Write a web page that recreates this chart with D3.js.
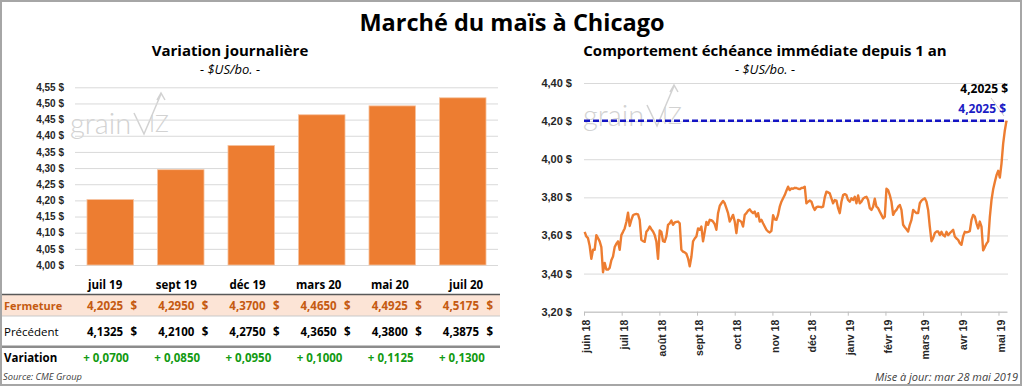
<!DOCTYPE html>
<html>
<head>
<meta charset="utf-8">
<script src="https://cdn.jsdelivr.net/npm/d3@7"></script>
<style>
  body { margin: 0; background: #fff; }
  svg { display: block; font-family: "Open Sans", Lato, sans-serif; }
</style>
</head>
<body>
<div id="chart"></div>
<script>
// contrats (graphique de gauche + tableau)
const contracts = ["juil 19", "sept 19", "déc 19", "mars 20", "mai 20", "juil 20"];
const closing = [4.2025, 4.295, 4.37, 4.465, 4.4925, 4.5175];
const previous = [4.1325, 4.21, 4.275, 4.365, 4.38, 4.3875];
const variation = [0.07, 0.085, 0.095, 0.1, 0.1125, 0.13];
const barTicks = [4.0, 4.05, 4.1, 4.15, 4.2, 4.25, 4.3, 4.35, 4.4, 4.45, 4.5, 4.55];

// échéance immédiate, séances de juin 2018 à mai 2019
const monthLabels = ["juin 18", "juil 18", "août 18", "sept 18", "oct 18", "nov 18",
  "déc 18", "janv 19", "févr 19", "mars 19", "avr 19", "mai 19"];
const sessionsPerMonth = 22.6;
const lineTicks = [3.2, 3.4, 3.6, 3.8, 4.0, 4.2, 4.4];
const lastPrice = 4.2025;
const nearbyPrices = [
  3.619, 3.595, 3.586, 3.546, 3.477, 3.525, 3.525, 3.602, 3.586, 3.569,
  3.539, 3.407, 3.456, 3.421, 3.421, 3.430, 3.470, 3.490, 3.539, 3.557,
  3.569, 3.525, 3.602, 3.619, 3.637, 3.671, 3.720, 3.650, 3.682, 3.706,
  3.711, 3.713, 3.711, 3.682, 3.577, 3.570, 3.567, 3.619, 3.630, 3.647,
  3.633, 3.621, 3.602, 3.569, 3.477, 3.626, 3.619, 3.570, 3.567, 3.595,
  3.656, 3.664, 3.678, 3.656, 3.668, 3.671, 3.673, 3.664, 3.525, 3.515,
  3.511, 3.504, 3.480, 3.438, 3.487, 3.569, 3.584, 3.595, 3.637, 3.630,
  3.647, 3.569, 3.619, 3.671, 3.656, 3.682, 3.680, 3.673, 3.659, 3.630,
  3.717, 3.755, 3.769, 3.781, 3.769, 3.743, 3.717, 3.673, 3.690, 3.708,
  3.673, 3.612, 3.682, 3.678, 3.671, 3.647, 3.708, 3.717, 3.730, 3.737,
  3.725, 3.717, 3.725, 3.699, 3.717, 3.673, 3.682, 3.664, 3.647, 3.630,
  3.621, 3.616, 3.624, 3.706, 3.685, 3.682, 3.708, 3.751, 3.777, 3.795,
  3.812, 3.835, 3.856, 3.838, 3.847, 3.845, 3.850, 3.849, 3.845, 3.843,
  3.849, 3.850, 3.856, 3.769, 3.777, 3.783, 3.777, 3.751, 3.734, 3.748,
  3.751, 3.750, 3.748, 3.751, 3.800, 3.830, 3.826, 3.821, 3.795, 3.769,
  3.786, 3.783, 3.743, 3.717, 3.777, 3.812, 3.817, 3.812, 3.786, 3.777,
  3.795, 3.786, 3.803, 3.769, 3.810, 3.769, 3.777, 3.793, 3.800, 3.803,
  3.786, 3.743, 3.734, 3.751, 3.793, 3.751, 3.743, 3.725, 3.708, 3.690,
  3.699, 3.845, 3.838, 3.812, 3.777, 3.708, 3.725, 3.734, 3.751, 3.760,
  3.734, 3.656, 3.643, 3.633, 3.621, 3.656, 3.682, 3.734, 3.725, 3.717,
  3.717, 3.769, 3.783, 3.790, 3.795, 3.777, 3.734, 3.647, 3.570, 3.586,
  3.612, 3.621, 3.621, 3.602, 3.619, 3.602, 3.595, 3.619, 3.602, 3.612,
  3.621, 3.630, 3.595, 3.584, 3.577, 3.560, 3.551, 3.595, 3.619, 3.616,
  3.619, 3.623, 3.682, 3.708, 3.699, 3.664, 3.637, 3.673, 3.647, 3.522,
  3.539, 3.557, 3.569, 3.696, 3.786, 3.842, 3.880, 3.916, 3.939, 3.904,
  3.977, 4.082, 4.151, 4.2025
];

const W = 1024, H = 387;
const orange = "#ed7d31", grid = "#d9d9d9";

const fr = d3.formatLocale({ decimal: ",", thousands: " ", grouping: [3], currency: ["", " $"] });
const f2 = fr.format(".2f"), f4 = fr.format(".4f");

const svg = d3.select("#chart").append("svg").attr("width", W).attr("height", H);

svg.append("rect")
  .attr("x", 1).attr("y", 1).attr("width", 1020).attr("height", 384)
  .attr("fill", "#fff").attr("stroke", "#a6a6a6").attr("stroke-width", 2);

svg.append("text")
  .attr("x", 512).attr("y", 31)
  .attr("text-anchor", "middle")
  .style("font-size", "23.5px").style("font-weight", "bold")
  .text("Marché du maïs à Chicago");

function drawWatermark(x0, y0) {
  const wm = svg.append("g").attr("transform", "translate(" + x0 + "," + y0 + ")");
  const c = "#d2d2d2";
  wm.append("text").attr("fill", c)
    .attr("font-family", "Lato")
    .style("font-size", "29px").style("font-weight", 300)
    .text("grain");
  wm.append("path")
    .attr("d", "M64,-21L74,0L91,-40M87,-34L91,-41L95,-34")
    .attr("fill", "none").attr("stroke", c).attr("stroke-width", 1.5);
  wm.append("text").attr("x", 79).attr("y", -2).attr("fill", c)
    .attr("font-family", "Lato")
    .style("font-size", "23px").style("font-weight", 300)
    .text("IZ");
}

function subtitle(cx, title) {
  svg.append("text")
    .attr("x", cx).attr("y", 56)
    .attr("text-anchor", "middle")
    .style("font-size", "15px").style("font-weight", "bold")
    .text(title);
  svg.append("text")
    .attr("x", cx).attr("y", 74)
    .attr("text-anchor", "middle")
    .style("font-size", "13px").style("font-style", "italic")
    .text("- $US/bo. -");
}

// ---------- gauche : variation journalière ----------
subtitle(230, "Variation journalière");
drawWatermark(70, 134);

const xBar = d3.scaleBand().domain(contracts).range([75, 498])
  .paddingInner(0.34).paddingOuter(0.17);
const yBar = d3.scaleLinear().domain([4.0, 4.55]).range([265, 87.3]);

const gyBar = svg.append("g")
  .attr("transform", "translate(75,0)")
  .call(d3.axisLeft(yBar).tickValues(barTicks).tickSize(-423).tickPadding(11)
    .tickFormat(d => f2(d) + " $"));
gyBar.select(".domain").remove();
gyBar.selectAll("line").attr("stroke", grid);
gyBar.selectAll("text").style("font-size", "10px").style("font-weight", "bold")
  .attr("fill", "#262626").attr("font-family", null);

svg.append("g").selectAll("rect")
  .data(closing)
  .join("rect")
  .attr("x", (d, i) => xBar(contracts[i]))
  .attr("y", d => yBar(d))
  .attr("width", xBar.bandwidth())
  .attr("height", d => yBar(4.0) - yBar(d))
  .attr("fill", orange)
  .attr("stroke", "#f6c3a0").attr("stroke-width", 0.8);

// tableau
const tableX = d3.scaleBand().domain(contracts).range([66, 493]);
const colRight = c => tableX(c) + tableX.bandwidth();

svg.append("rect")
  .attr("x", 2).attr("y", 295).attr("width", 498).attr("height", 21)
  .attr("fill", "#fce4d6");
svg.append("line").attr("x1", 2).attr("x2", 500).attr("y1", 294.5).attr("y2", 294.5)
  .attr("stroke", "#595959").attr("stroke-width", 1.5);
svg.append("line").attr("x1", 2).attr("x2", 500).attr("y1", 316).attr("y2", 316)
  .attr("stroke", "#c9c9c9").attr("stroke-width", 1);
svg.append("line").attr("x1", 2).attr("x2", 500).attr("y1", 346.8).attr("y2", 346.8)
  .attr("stroke", "#8c8c8c").attr("stroke-width", 2.6);

svg.append("g").selectAll("text")
  .data(contracts)
  .join("text")
  .attr("x", (c, i) => colRight(c) - 33 + (i === contracts.length - 1 ? 6 : 1))
  .attr("y", 289)
  .attr("text-anchor", "middle")
  .style("font-size", "11.5px").style("font-weight", "bold")
  .text(c => c);

function valueRow(values, y, color, weight) {
  const row = svg.append("g").attr("fill", color)
    .style("font-size", "11.5px").style("font-weight", weight);
  row.selectAll("text.num")
    .data(values)
    .join("text")
    .attr("class", "num")
    .attr("x", (d, i) => colRight(contracts[i]) - 14)
    .attr("y", y)
    .attr("text-anchor", "end")
    .text(d => f4(d));
  row.selectAll("text.cur")
    .data(values)
    .join("text")
    .attr("class", "cur")
    .attr("x", (d, i) => colRight(contracts[i]))
    .attr("y", y)
    .attr("text-anchor", "end")
    .text("$");
}

svg.append("text").attr("x", 4).attr("y", 309.5)
  .attr("fill", "#c55a11")
  .style("font-size", "11px").style("font-weight", "bold")
  .text("Fermeture");
valueRow(closing, 309.5, "#c55a11", "bold");

svg.append("text").attr("x", 4).attr("y", 335.5)
  .style("font-size", "11.5px")
  .text("Précédent");
valueRow(previous, 335.5, "#000", "bold");

svg.append("text").attr("x", 4).attr("y", 361.5)
  .style("font-size", "11.5px").style("font-weight", "bold")
  .text("Variation");
svg.append("g").selectAll("text")
  .data(variation)
  .join("text")
  .attr("x", (d, i) => colRight(contracts[i]) - 54)
  .attr("y", 361.5)
  .attr("fill", "#129a12")
  .style("font-size", "11.5px").style("font-weight", "bold")
  .text(d => "+ " + f4(d));

svg.append("text").attr("x", 3).attr("y", 380)
  .attr("fill", "#404040")
  .style("font-size", "9.3px").style("font-style", "italic")
  .text("Source: CME Group");

// ---------- droite : échéance immédiate ----------
subtitle(765, "Comportement échéance immédiate depuis 1 an");
drawWatermark(583, 126);

const xLine = d3.scaleLinear().domain([-0.4, nearbyPrices.length - 1]).range([584, 1006.5]);
const yLine = d3.scaleLinear().domain([3.2, 4.4]).range([311.7, 83]);
const monthPos = monthLabels.map((m, i) => i * sessionsPerMonth - 0.4);

const gyLine = svg.append("g")
  .attr("transform", "translate(584,0)")
  .call(d3.axisLeft(yLine).tickValues(lineTicks).tickSize(-424).tickPadding(12)
    .tickFormat(d => f2(d) + " $"));
gyLine.select(".domain").remove();
gyLine.selectAll("line").attr("stroke", grid);
gyLine.selectAll("text").style("font-size", "11px").style("font-weight", "bold")
  .attr("fill", "#262626").attr("font-family", null);

const gxLine = svg.append("g")
  .attr("transform", "translate(0," + yLine(3.2) + ")")
  .call(d3.axisBottom(xLine).tickValues(monthPos).tickSize(4).tickSizeOuter(0)
    .tickFormat((d, i) => monthLabels[i]));
gxLine.select(".domain").attr("stroke", "#bfbfbf");
gxLine.selectAll("line").attr("stroke", "#bfbfbf");
gxLine.selectAll("text")
  .attr("font-family", null)
  .attr("fill", "#262626")
  .style("font-size", "10.5px").style("font-weight", "bold")
  .attr("text-anchor", "end")
  .attr("transform", "rotate(-90)")
  .attr("x", -8).attr("y", 2).attr("dy", "0.35em");

svg.append("line")
  .attr("x1", xLine(-0.4)).attr("x2", xLine(nearbyPrices.length - 1))
  .attr("y1", yLine(lastPrice)).attr("y2", yLine(lastPrice))
  .attr("stroke", "#1414c4").attr("stroke-width", 2.5)
  .attr("stroke-dasharray", "6,3");

svg.append("path")
  .datum(nearbyPrices)
  .attr("fill", "none")
  .attr("stroke", orange)
  .attr("stroke-width", 2.4)
  .attr("stroke-linejoin", "round")
  .attr("d", d3.line().x((d, i) => xLine(i)).y(d => yLine(d)));

svg.append("line")
  .attr("x1", 991).attr("y1", 98).attr("x2", 1004).attr("y2", 116)
  .attr("stroke", "#bfbfbf").attr("stroke-width", 0.8);
svg.append("text")
  .attr("x", 1008).attr("y", 93)
  .attr("text-anchor", "end")
  .style("font-size", "12px").style("font-weight", "bold")
  .text(f4(lastPrice) + " $");
svg.append("text")
  .attr("x", 1006).attr("y", 113)
  .attr("text-anchor", "end")
  .attr("fill", "#1c1cc4")
  .style("font-size", "12px").style("font-weight", "bold")
  .text(f4(lastPrice) + " $");

svg.append("text")
  .attr("x", 1018).attr("y", 381)
  .attr("text-anchor", "end")
  .attr("fill", "#404040")
  .style("font-size", "11px").style("font-style", "italic")
  .text("Mise à jour: mar 28 mai 2019");
</script>
</body>
</html>
